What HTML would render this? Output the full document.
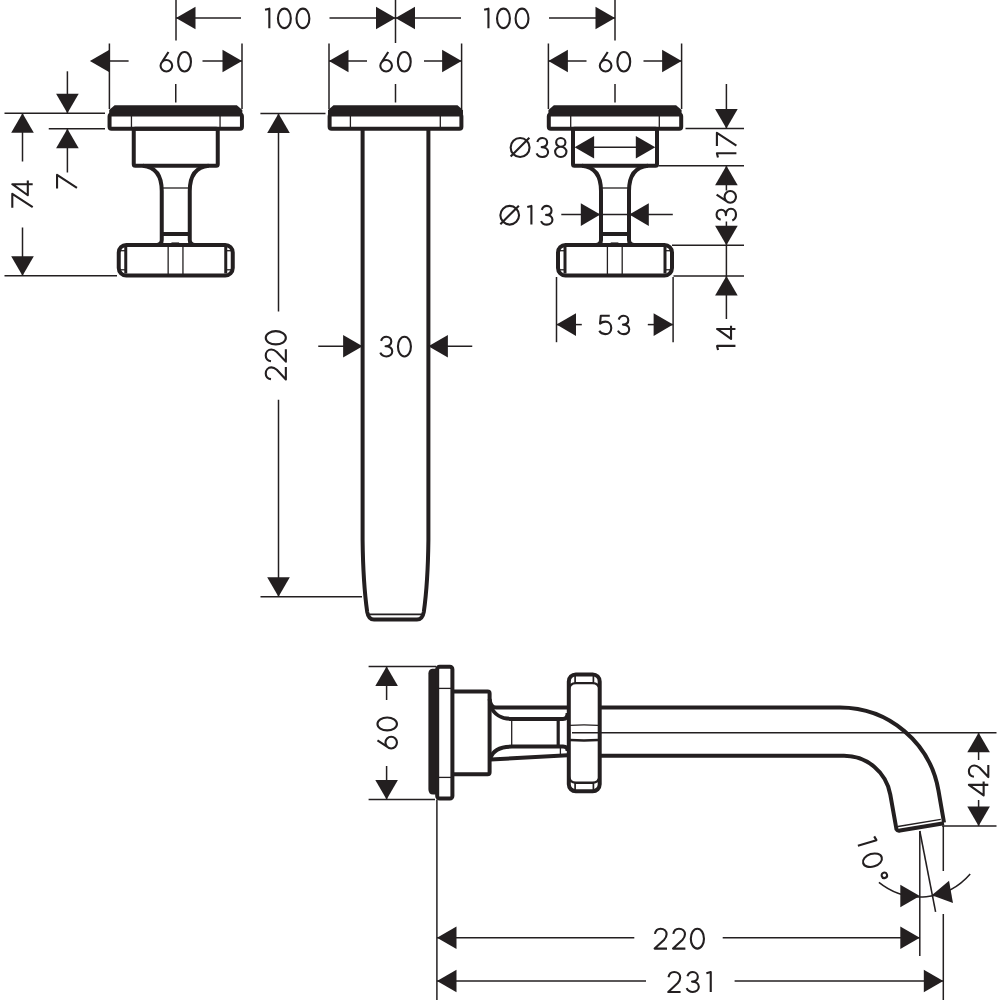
<!DOCTYPE html>
<html><head><meta charset="utf-8"><style>
html,body{margin:0;padding:0;background:#fff;}
svg{display:block;}
text{font-family:"Liberation Sans",sans-serif;fill:#231f20;stroke:none;}
</style></head><body>
<svg width="1000" height="1000" viewBox="0 0 1000 1000">
<rect width="1000" height="1000" fill="#fff"/>
<g stroke="#231f20" stroke-linecap="butt" stroke-linejoin="round" fill="none">
<line x1="176.00" y1="0.00" x2="176.00" y2="40.50" stroke-width="1.5"/>
<line x1="395.50" y1="0.00" x2="395.50" y2="43.00" stroke-width="1.5"/>
<line x1="615.00" y1="0.00" x2="615.00" y2="40.50" stroke-width="1.5"/>
<polygon points="176.00,18.00 195.50,6.70 195.50,29.30" fill="#231f20" stroke="none"/>
<line x1="176.00" y1="18.00" x2="241.00" y2="18.00" stroke-width="1.5"/>
<g transform="translate(287.20,18.40) rotate(0)" stroke-width="2.1" stroke-linecap="butt" fill="none"><path transform="translate(-22.15,-9.75) scale(0.9750)" d="M0,1.1 L4.4,0 L4.4,20" vector-effect="non-scaling-stroke"/><path transform="translate(-9.26,-9.75) scale(0.9750)" d="M6.6,0 C10.4,0 13.2,4.5 13.2,10 C13.2,15.5 10.4,20 6.6,20 C2.8,20 0,15.5 0,10 C0,4.5 2.8,0 6.6,0 Z" vector-effect="non-scaling-stroke"/><path transform="translate(9.28,-9.75) scale(0.9750)" d="M6.6,0 C10.4,0 13.2,4.5 13.2,10 C13.2,15.5 10.4,20 6.6,20 C2.8,20 0,15.5 0,10 C0,4.5 2.8,0 6.6,0 Z" vector-effect="non-scaling-stroke"/></g>
<line x1="329.50" y1="18.00" x2="395.50" y2="18.00" stroke-width="1.5"/>
<polygon points="395.50,18.00 376.00,29.30 376.00,6.70" fill="#231f20" stroke="none"/>
<polygon points="395.50,18.00 415.00,6.70 415.00,29.30" fill="#231f20" stroke="none"/>
<line x1="395.50" y1="18.00" x2="461.00" y2="18.00" stroke-width="1.5"/>
<g transform="translate(506.30,18.40) rotate(0)" stroke-width="2.1" stroke-linecap="butt" fill="none"><path transform="translate(-22.15,-9.75) scale(0.9750)" d="M0,1.1 L4.4,0 L4.4,20" vector-effect="non-scaling-stroke"/><path transform="translate(-9.26,-9.75) scale(0.9750)" d="M6.6,0 C10.4,0 13.2,4.5 13.2,10 C13.2,15.5 10.4,20 6.6,20 C2.8,20 0,15.5 0,10 C0,4.5 2.8,0 6.6,0 Z" vector-effect="non-scaling-stroke"/><path transform="translate(9.28,-9.75) scale(0.9750)" d="M6.6,0 C10.4,0 13.2,4.5 13.2,10 C13.2,15.5 10.4,20 6.6,20 C2.8,20 0,15.5 0,10 C0,4.5 2.8,0 6.6,0 Z" vector-effect="non-scaling-stroke"/></g>
<line x1="549.00" y1="18.00" x2="615.00" y2="18.00" stroke-width="1.5"/>
<polygon points="615.00,18.00 595.50,29.30 595.50,6.70" fill="#231f20" stroke="none"/>
<line x1="109.40" y1="43.50" x2="109.40" y2="109.00" stroke-width="1.5"/>
<line x1="242.00" y1="43.50" x2="242.00" y2="109.00" stroke-width="1.5"/>
<polygon points="89.90,61.00 109.40,49.70 109.40,72.30" fill="#231f20" stroke="none"/>
<polygon points="242.00,61.00 222.50,72.30 222.50,49.70" fill="#231f20" stroke="none"/>
<line x1="109.40" y1="61.00" x2="128.60" y2="61.00" stroke-width="1.5"/>
<line x1="202.50" y1="61.00" x2="242.00" y2="61.00" stroke-width="1.5"/>
<g transform="translate(175.75,61.75) rotate(0)" stroke-width="2.1" stroke-linecap="butt" fill="none"><path transform="translate(-15.20,-9.70) scale(0.9700)" d="M8.2,0 L1.6,10.2 M6,8.2 C9.3,8.2 12,10.9 12,14.1 C12,17.4 9.3,20 6,20 C2.7,20 0,17.4 0,14.1 C0,10.9 2.7,8.2 6,8.2 Z" vector-effect="non-scaling-stroke"/><path transform="translate(2.40,-9.70) scale(0.9700)" d="M6.6,0 C10.4,0 13.2,4.5 13.2,10 C13.2,15.5 10.4,20 6.6,20 C2.8,20 0,15.5 0,10 C0,4.5 2.8,0 6.6,0 Z" vector-effect="non-scaling-stroke"/></g>
<line x1="175.75" y1="84.00" x2="175.75" y2="102.50" stroke-width="1.5"/>
<line x1="329.00" y1="43.50" x2="329.00" y2="109.00" stroke-width="1.5"/>
<line x1="461.60" y1="43.50" x2="461.60" y2="109.00" stroke-width="1.5"/>
<polygon points="329.00,61.00 348.50,49.70 348.50,72.30" fill="#231f20" stroke="none"/>
<polygon points="461.60,61.00 442.10,72.30 442.10,49.70" fill="#231f20" stroke="none"/>
<line x1="329.00" y1="61.00" x2="367.00" y2="61.00" stroke-width="1.5"/>
<line x1="424.00" y1="61.00" x2="461.60" y2="61.00" stroke-width="1.5"/>
<g transform="translate(395.50,61.75) rotate(0)" stroke-width="2.1" stroke-linecap="butt" fill="none"><path transform="translate(-15.20,-9.70) scale(0.9700)" d="M8.2,0 L1.6,10.2 M6,8.2 C9.3,8.2 12,10.9 12,14.1 C12,17.4 9.3,20 6,20 C2.7,20 0,17.4 0,14.1 C0,10.9 2.7,8.2 6,8.2 Z" vector-effect="non-scaling-stroke"/><path transform="translate(2.40,-9.70) scale(0.9700)" d="M6.6,0 C10.4,0 13.2,4.5 13.2,10 C13.2,15.5 10.4,20 6.6,20 C2.8,20 0,15.5 0,10 C0,4.5 2.8,0 6.6,0 Z" vector-effect="non-scaling-stroke"/></g>
<line x1="395.50" y1="84.00" x2="395.50" y2="102.50" stroke-width="1.5"/>
<line x1="548.40" y1="43.50" x2="548.40" y2="109.00" stroke-width="1.5"/>
<line x1="681.60" y1="43.50" x2="681.60" y2="109.00" stroke-width="1.5"/>
<polygon points="548.40,61.00 567.90,49.70 567.90,72.30" fill="#231f20" stroke="none"/>
<polygon points="681.60,61.00 662.10,72.30 662.10,49.70" fill="#231f20" stroke="none"/>
<line x1="548.40" y1="61.00" x2="586.50" y2="61.00" stroke-width="1.5"/>
<line x1="643.50" y1="61.00" x2="681.60" y2="61.00" stroke-width="1.5"/>
<g transform="translate(615.00,61.75) rotate(0)" stroke-width="2.1" stroke-linecap="butt" fill="none"><path transform="translate(-15.20,-9.70) scale(0.9700)" d="M8.2,0 L1.6,10.2 M6,8.2 C9.3,8.2 12,10.9 12,14.1 C12,17.4 9.3,20 6,20 C2.7,20 0,17.4 0,14.1 C0,10.9 2.7,8.2 6,8.2 Z" vector-effect="non-scaling-stroke"/><path transform="translate(2.40,-9.70) scale(0.9700)" d="M6.6,0 C10.4,0 13.2,4.5 13.2,10 C13.2,15.5 10.4,20 6.6,20 C2.8,20 0,15.5 0,10 C0,4.5 2.8,0 6.6,0 Z" vector-effect="non-scaling-stroke"/></g>
<line x1="615.00" y1="84.00" x2="615.00" y2="102.50" stroke-width="1.5"/>
<path d="M109.15,114.5 L109.15,110 L114.65,105.2 L236.85,105.2 L242.35,110 L242.35,114.5 Z" fill="#231f20" stroke="none"/>
<rect x="109.55" y="114.6" width="132.4" height="14.1" rx="2" stroke-width="4.0" fill="none"/>
<line x1="131.45" y1="114.50" x2="131.45" y2="128.70" stroke-width="1.3"/>
<line x1="220.05" y1="114.50" x2="220.05" y2="128.70" stroke-width="1.3"/>
<rect x="133.75" y="128.7" width="84" height="37" rx="1.5" stroke-width="4.0" fill="none"/>
<path d="M142.75,165.7 C154.75,166.8 161.75,175 161.75,191 L161.75,240 Q161.75,244.5 156.75,245" stroke-width="4.0" fill="none"/>
<path d="M208.75,165.7 C196.75,166.8 189.75,175 189.75,191 L189.75,240 Q189.75,244.5 194.75,245" stroke-width="4.0" fill="none"/>
<line x1="161.75" y1="188.00" x2="189.75" y2="188.00" stroke-width="1.3"/>
<line x1="161.75" y1="234.00" x2="189.75" y2="234.00" stroke-width="4.0"/>
<rect x="118.75" y="245" width="114" height="30.6" rx="7.5" stroke-width="4.0" fill="none"/>
<line x1="125.75" y1="247.00" x2="125.75" y2="273.50" stroke-width="3.0"/>
<line x1="225.75" y1="247.00" x2="225.75" y2="273.50" stroke-width="3.0"/>
<line x1="118.75" y1="250.70" x2="125.75" y2="250.70" stroke-width="1.3"/>
<line x1="118.75" y1="269.80" x2="125.75" y2="269.80" stroke-width="1.3"/>
<line x1="232.75" y1="250.70" x2="225.75" y2="250.70" stroke-width="1.3"/>
<line x1="232.75" y1="269.80" x2="225.75" y2="269.80" stroke-width="1.3"/>
<line x1="168.15" y1="245.00" x2="168.15" y2="275.60" stroke-width="1.3"/>
<line x1="182.95" y1="245.00" x2="182.95" y2="275.60" stroke-width="1.3"/>
<line x1="171.45" y1="244.60" x2="179.15" y2="244.60" stroke-width="4.4"/>
<path d="M548.40,114.5 L548.40,110 L553.90,105.2 L676.10,105.2 L681.60,110 L681.60,114.5 Z" fill="#231f20" stroke="none"/>
<rect x="548.80" y="114.6" width="132.4" height="14.1" rx="2" stroke-width="4.0" fill="none"/>
<line x1="570.70" y1="114.50" x2="570.70" y2="128.70" stroke-width="1.3"/>
<line x1="659.30" y1="114.50" x2="659.30" y2="128.70" stroke-width="1.3"/>
<rect x="573.00" y="128.7" width="84" height="37" rx="1.5" stroke-width="4.0" fill="none"/>
<path d="M582.00,165.7 C594.00,166.8 601.00,175 601.00,191 L601.00,240 Q601.00,244.5 596.00,245" stroke-width="4.0" fill="none"/>
<path d="M648.00,165.7 C636.00,166.8 629.00,175 629.00,191 L629.00,240 Q629.00,244.5 634.00,245" stroke-width="4.0" fill="none"/>
<line x1="601.00" y1="188.00" x2="629.00" y2="188.00" stroke-width="1.3"/>
<line x1="601.00" y1="234.00" x2="629.00" y2="234.00" stroke-width="4.0"/>
<rect x="558.00" y="245" width="114" height="30.6" rx="7.5" stroke-width="4.0" fill="none"/>
<line x1="565.00" y1="247.00" x2="565.00" y2="273.50" stroke-width="3.0"/>
<line x1="665.00" y1="247.00" x2="665.00" y2="273.50" stroke-width="3.0"/>
<line x1="558.00" y1="250.70" x2="565.00" y2="250.70" stroke-width="1.3"/>
<line x1="558.00" y1="269.80" x2="565.00" y2="269.80" stroke-width="1.3"/>
<line x1="672.00" y1="250.70" x2="665.00" y2="250.70" stroke-width="1.3"/>
<line x1="672.00" y1="269.80" x2="665.00" y2="269.80" stroke-width="1.3"/>
<line x1="607.40" y1="245.00" x2="607.40" y2="275.60" stroke-width="1.3"/>
<line x1="622.20" y1="245.00" x2="622.20" y2="275.60" stroke-width="1.3"/>
<line x1="610.70" y1="244.60" x2="618.40" y2="244.60" stroke-width="4.4"/>
<line x1="4.50" y1="113.30" x2="105.00" y2="113.30" stroke-width="1.5"/>
<line x1="4.50" y1="275.80" x2="117.00" y2="275.80" stroke-width="1.5"/>
<line x1="22.50" y1="113.30" x2="22.50" y2="161.50" stroke-width="1.5"/>
<polygon points="22.50,113.30 33.80,132.80 11.20,132.80" fill="#231f20" stroke="none"/>
<g transform="translate(22.50,194.10) rotate(-90)" stroke-width="2.1" stroke-linecap="butt" fill="none"><path transform="translate(-13.55,-10.20) scale(1.0200)" d="M0,0 L13.6,0 L0.6,20" vector-effect="non-scaling-stroke"/><path transform="translate(-1.14,-10.20) scale(1.0200)" d="M10.8,20 L10.8,0 L0,15.2 L14.4,15.2" vector-effect="non-scaling-stroke"/></g>
<line x1="22.50" y1="227.50" x2="22.50" y2="275.80" stroke-width="1.5"/>
<polygon points="22.50,275.80 11.20,256.30 33.80,256.30" fill="#231f20" stroke="none"/>
<line x1="48.75" y1="128.70" x2="105.00" y2="128.70" stroke-width="1.5"/>
<line x1="67.40" y1="71.30" x2="67.40" y2="113.30" stroke-width="1.5"/>
<polygon points="67.40,113.30 56.10,93.80 78.70,93.80" fill="#231f20" stroke="none"/>
<line x1="67.40" y1="128.70" x2="67.40" y2="172.50" stroke-width="1.5"/>
<polygon points="67.40,128.70 78.70,148.20 56.10,148.20" fill="#231f20" stroke="none"/>
<g transform="translate(67.00,181.00) rotate(-90)" stroke-width="2.1" stroke-linecap="butt" fill="none"><path transform="translate(-7.45,-9.95) scale(0.9950)" d="M0,0 L13.6,0 L0.6,20" vector-effect="non-scaling-stroke"/></g>
<path d="M328,114.5 L328,110 L333.5,105.2 L457.5,105.2 L463,110 L463,114.5 Z" fill="#231f20" stroke="none"/>
<rect x="329.6" y="114.6" width="131.8" height="14.1" rx="2" stroke-width="4.0" fill="none"/>
<line x1="350.40" y1="114.50" x2="350.40" y2="128.70" stroke-width="1.3"/>
<line x1="440.30" y1="114.50" x2="440.30" y2="128.70" stroke-width="1.3"/>
<path d="M362.6,130 L362.6,540 C363,575 365.5,600 367.2,612 Q368.5,619.6 374,619.6 L417,619.6 Q422.5,619.6 423.8,612 C425.5,600 428,575 428.4,540 L428.4,130" stroke-width="4.0" fill="none"/>
<line x1="367.50" y1="614.40" x2="423.50" y2="614.40" stroke-width="1.6900000000000002"/>
<line x1="318.25" y1="346.20" x2="362.60" y2="346.20" stroke-width="1.5"/>
<polygon points="362.60,346.20 343.10,357.50 343.10,334.90" fill="#231f20" stroke="none"/>
<polygon points="428.40,346.20 447.90,334.90 447.90,357.50" fill="#231f20" stroke="none"/>
<line x1="428.40" y1="346.20" x2="472.25" y2="346.20" stroke-width="1.5"/>
<g transform="translate(395.60,346.60) rotate(0)" stroke-width="2.1" stroke-linecap="butt" fill="none"><path transform="translate(-15.32,-9.82) scale(0.9825)" d="M0.8,4.2 C1.6,1.6 3.6,0 6.2,0 C9,0 11.2,2 11.2,4.8 C11.2,7.6 9,9.6 5.4,9.6 C9.6,9.6 12.2,11.8 12.2,14.8 C12.2,17.9 9.6,20 6.2,20 C3.4,20 1,18.5 0,16.2" vector-effect="non-scaling-stroke"/><path transform="translate(2.36,-9.82) scale(0.9825)" d="M6.6,0 C10.4,0 13.2,4.5 13.2,10 C13.2,15.5 10.4,20 6.6,20 C2.8,20 0,15.5 0,10 C0,4.5 2.8,0 6.6,0 Z" vector-effect="non-scaling-stroke"/></g>
<line x1="260.40" y1="113.50" x2="325.50" y2="113.50" stroke-width="1.5"/>
<line x1="278.50" y1="113.50" x2="278.50" y2="311.50" stroke-width="1.5"/>
<polygon points="278.50,113.50 289.80,133.00 267.20,133.00" fill="#231f20" stroke="none"/>
<g transform="translate(275.80,355.60) rotate(-90)" stroke-width="2.1" stroke-linecap="butt" fill="none"><path transform="translate(-24.45,-10.05) scale(1.0050)" d="M0.9,5.2 C1.4,2 3.8,0 6.6,0 C10,0 12.6,2.4 12.6,5.6 C12.6,7.8 11.6,9.4 10.2,11 L0.6,20 L13,20" vector-effect="non-scaling-stroke"/><path transform="translate(-6.63,-10.05) scale(1.0050)" d="M0.9,5.2 C1.4,2 3.8,0 6.6,0 C10,0 12.6,2.4 12.6,5.6 C12.6,7.8 11.6,9.4 10.2,11 L0.6,20 L13,20" vector-effect="non-scaling-stroke"/><path transform="translate(11.18,-10.05) scale(1.0050)" d="M6.6,0 C10.4,0 13.2,4.5 13.2,10 C13.2,15.5 10.4,20 6.6,20 C2.8,20 0,15.5 0,10 C0,4.5 2.8,0 6.6,0 Z" vector-effect="non-scaling-stroke"/></g>
<line x1="278.50" y1="399.75" x2="278.50" y2="596.80" stroke-width="1.5"/>
<polygon points="278.50,596.80 267.20,577.30 289.80,577.30" fill="#231f20" stroke="none"/>
<line x1="260.50" y1="596.80" x2="362.00" y2="596.80" stroke-width="1.5"/>
<polygon points="574.60,147.30 594.10,136.00 594.10,158.60" fill="#231f20" stroke="none"/>
<polygon points="655.30,147.30 635.80,158.60 635.80,136.00" fill="#231f20" stroke="none"/>
<line x1="592.00" y1="147.30" x2="638.00" y2="147.30" stroke-width="1.5"/>
<g transform="translate(538.55,147.50) rotate(0)" stroke-width="2.1" stroke-linecap="butt" fill="none"><path transform="translate(-27.90,-9.45) scale(0.9450)" d="M10,0 C15.5,0 20,4.5 20,10 C20,15.5 15.5,20 10,20 C4.5,20 0,15.5 0,10 C0,4.5 4.5,0 10,0 Z M0,19.6 L19.8,-0.2" vector-effect="non-scaling-stroke"/><path transform="translate(-1.98,-9.45) scale(0.9450)" d="M0.8,4.2 C1.6,1.6 3.6,0 6.2,0 C9,0 11.2,2 11.2,4.8 C11.2,7.6 9,9.6 5.4,9.6 C9.6,9.6 12.2,11.8 12.2,14.8 C12.2,17.9 9.6,20 6.2,20 C3.4,20 1,18.5 0,16.2" vector-effect="non-scaling-stroke"/><path transform="translate(16.56,-9.45) scale(0.9450)" d="M6,9.2 C3.4,9.2 1.1,7.2 1.1,4.6 C1.1,2 3.4,0 6,0 C8.6,0 10.9,2 10.9,4.6 C10.9,7.2 8.6,9.2 6,9.2 C2.7,9.2 0,11.6 0,14.6 C0,17.6 2.7,20 6,20 C9.3,20 12,17.6 12,14.6 C12,11.6 9.3,9.2 6,9.2 Z" vector-effect="non-scaling-stroke"/></g>
<line x1="561.30" y1="214.60" x2="672.80" y2="214.60" stroke-width="1.5"/>
<polygon points="600.30,214.60 580.80,225.90 580.80,203.30" fill="#231f20" stroke="none"/>
<polygon points="629.30,214.60 648.80,203.30 648.80,225.90" fill="#231f20" stroke="none"/>
<g transform="translate(526.40,215.25) rotate(0)" stroke-width="2.1" stroke-linecap="butt" fill="none"><path transform="translate(-26.05,-9.35) scale(0.9350)" d="M10,0 C15.5,0 20,4.5 20,10 C20,15.5 15.5,20 10,20 C4.5,20 0,15.5 0,10 C0,4.5 4.5,0 10,0 Z M0,19.6 L19.8,-0.2" vector-effect="non-scaling-stroke"/><path transform="translate(0.89,-9.35) scale(0.9350)" d="M0,1.1 L4.4,0 L4.4,20" vector-effect="non-scaling-stroke"/><path transform="translate(14.64,-9.35) scale(0.9350)" d="M0.8,4.2 C1.6,1.6 3.6,0 6.2,0 C9,0 11.2,2 11.2,4.8 C11.2,7.6 9,9.6 5.4,9.6 C9.6,9.6 12.2,11.8 12.2,14.8 C12.2,17.9 9.6,20 6.2,20 C3.4,20 1,18.5 0,16.2" vector-effect="non-scaling-stroke"/></g>
<line x1="685.50" y1="128.60" x2="744.00" y2="128.60" stroke-width="1.5"/>
<line x1="658.50" y1="165.70" x2="744.00" y2="165.70" stroke-width="1.5"/>
<line x1="672.00" y1="245.20" x2="744.00" y2="245.20" stroke-width="1.5"/>
<line x1="673.50" y1="275.90" x2="744.00" y2="275.90" stroke-width="1.5"/>
<line x1="726.40" y1="84.00" x2="726.40" y2="128.60" stroke-width="1.5"/>
<polygon points="726.40,128.60 715.10,109.10 737.70,109.10" fill="#231f20" stroke="none"/>
<g transform="translate(726.65,145.20) rotate(-90)" stroke-width="2.1" stroke-linecap="butt" fill="none"><path transform="translate(-12.35,-9.75) scale(0.9750)" d="M0,1.1 L4.4,0 L4.4,20" vector-effect="non-scaling-stroke"/><path transform="translate(-0.91,-9.75) scale(0.9750)" d="M0,0 L13.6,0 L0.6,20" vector-effect="non-scaling-stroke"/></g>
<polygon points="726.40,165.70 737.70,185.20 715.10,185.20" fill="#231f20" stroke="none"/>
<line x1="726.40" y1="165.70" x2="726.40" y2="190.50" stroke-width="1.5"/>
<line x1="726.40" y1="221.50" x2="726.40" y2="245.20" stroke-width="1.5"/>
<polygon points="726.40,245.20 715.10,225.70 737.70,225.70" fill="#231f20" stroke="none"/>
<g transform="translate(726.30,205.80) rotate(-90)" stroke-width="2.1" stroke-linecap="butt" fill="none"><path transform="translate(-14.75,-9.70) scale(0.9700)" d="M0.8,4.2 C1.6,1.6 3.6,0 6.2,0 C9,0 11.2,2 11.2,4.8 C11.2,7.6 9,9.6 5.4,9.6 C9.6,9.6 12.2,11.8 12.2,14.8 C12.2,17.9 9.6,20 6.2,20 C3.4,20 1,18.5 0,16.2" vector-effect="non-scaling-stroke"/><path transform="translate(3.11,-9.70) scale(0.9700)" d="M8.2,0 L1.6,10.2 M6,8.2 C9.3,8.2 12,10.9 12,14.1 C12,17.4 9.3,20 6,20 C2.7,20 0,17.4 0,14.1 C0,10.9 2.7,8.2 6,8.2 Z" vector-effect="non-scaling-stroke"/></g>
<line x1="726.40" y1="245.20" x2="726.40" y2="275.90" stroke-width="1.5"/>
<polygon points="726.40,275.90 737.70,295.40 715.10,295.40" fill="#231f20" stroke="none"/>
<line x1="726.40" y1="275.90" x2="726.40" y2="319.00" stroke-width="1.5"/>
<g transform="translate(726.25,337.80) rotate(-90)" stroke-width="2.1" stroke-linecap="butt" fill="none"><path transform="translate(-12.15,-9.20) scale(0.9200)" d="M0,1.1 L4.4,0 L4.4,20" vector-effect="non-scaling-stroke"/><path transform="translate(-1.10,-9.20) scale(0.9200)" d="M10.8,20 L10.8,0 L0,15.2 L14.4,15.2" vector-effect="non-scaling-stroke"/></g>
<line x1="556.50" y1="277.00" x2="556.50" y2="342.20" stroke-width="1.5"/>
<line x1="673.10" y1="277.00" x2="673.10" y2="342.20" stroke-width="1.5"/>
<polygon points="556.50,324.60 576.00,313.30 576.00,335.90" fill="#231f20" stroke="none"/>
<line x1="556.50" y1="324.60" x2="581.80" y2="324.60" stroke-width="1.5"/>
<polygon points="673.10,324.60 653.60,335.90 653.60,313.30" fill="#231f20" stroke="none"/>
<line x1="647.80" y1="324.60" x2="673.10" y2="324.60" stroke-width="1.5"/>
<g transform="translate(614.25,324.95) rotate(0)" stroke-width="2.1" stroke-linecap="butt" fill="none"><path transform="translate(-14.95,-9.20) scale(0.9200)" d="M11.4,0 L1.6,0 L0.8,8.6 C2.4,7.2 4.4,6.4 6.6,6.4 C10.4,6.4 13,9.4 13,13.2 C13,17.2 10.2,20 6.4,20 C3.6,20 1.2,18.5 0,16.4" vector-effect="non-scaling-stroke"/><path transform="translate(3.73,-9.20) scale(0.9200)" d="M0.8,4.2 C1.6,1.6 3.6,0 6.2,0 C9,0 11.2,2 11.2,4.8 C11.2,7.6 9,9.6 5.4,9.6 C9.6,9.6 12.2,11.8 12.2,14.8 C12.2,17.9 9.6,20 6.2,20 C3.4,20 1,18.5 0,16.2" vector-effect="non-scaling-stroke"/></g>
<line x1="368.60" y1="666.50" x2="436.00" y2="666.50" stroke-width="1.5"/>
<line x1="368.60" y1="799.60" x2="435.00" y2="799.60" stroke-width="1.5"/>
<line x1="386.60" y1="666.50" x2="386.60" y2="700.00" stroke-width="1.5"/>
<polygon points="386.60,666.50 397.90,686.00 375.30,686.00" fill="#231f20" stroke="none"/>
<g transform="translate(387.20,733.00) rotate(-90)" stroke-width="2.1" stroke-linecap="butt" fill="none"><path transform="translate(-15.45,-9.75) scale(0.9750)" d="M8.2,0 L1.6,10.2 M6,8.2 C9.3,8.2 12,10.9 12,14.1 C12,17.4 9.3,20 6,20 C2.7,20 0,17.4 0,14.1 C0,10.9 2.7,8.2 6,8.2 Z" vector-effect="non-scaling-stroke"/><path transform="translate(2.58,-9.75) scale(0.9750)" d="M6.6,0 C10.4,0 13.2,4.5 13.2,10 C13.2,15.5 10.4,20 6.6,20 C2.8,20 0,15.5 0,10 C0,4.5 2.8,0 6.6,0 Z" vector-effect="non-scaling-stroke"/></g>
<line x1="386.60" y1="766.00" x2="386.60" y2="799.60" stroke-width="1.5"/>
<polygon points="386.60,799.60 375.30,780.10 397.90,780.10" fill="#231f20" stroke="none"/>
<line x1="436.90" y1="799.60" x2="436.90" y2="1000.00" stroke-width="1.5"/>
<path d="M438.8,668.8 L432.2,668.8 Q428.4,669.5 428.4,673.5 L428.4,789 Q428.4,794.6 433,794.6 L438.8,794.6 Z" fill="#231f20" stroke="none"/>
<rect x="437.2" y="666.8" width="15.2" height="131.8" rx="2.5" stroke-width="4.0" fill="none"/>
<line x1="438.50" y1="688.40" x2="451.00" y2="688.40" stroke-width="1.3"/>
<line x1="438.50" y1="777.40" x2="451.00" y2="777.40" stroke-width="1.3"/>
<path d="M452.6,691.4 L487.6,691.4 Q489.6,691.4 489.6,693.4 L489.6,772.2 Q489.6,774.2 487.6,774.2 L452.6,774.2" stroke-width="4.0" fill="none"/>
<path d="M489.6,699 Q490.5,707.6 496,707.6 L567.6,707.6" stroke-width="4.0" fill="none"/>
<path d="M491,707 C495,715.5 501,718.9 512,718.9 L563,718.9 Q567.6,718.9 567.6,713" stroke-width="4.0" fill="none"/>
<path d="M490.5,758 C493,750 500,746.6 512,746.6 L563,746.6 Q567.6,746.6 567.6,751" stroke-width="4.0" fill="none"/>
<path d="M490.5,759.6 L567.6,755.2" stroke-width="4.0" fill="none"/>
<line x1="511.70" y1="718.90" x2="511.70" y2="746.60" stroke-width="1.3"/>
<line x1="558.20" y1="718.90" x2="558.20" y2="746.60" stroke-width="3.2"/>
<path d="M560.4,747.5 L560.4,755.5" stroke-width="1.3" fill="none"/>
<rect x="568.8" y="674.4" width="30.9" height="116.9" rx="7" stroke-width="4.0" fill="none"/>
<path d="M568.8,690 Q569.5,683.1 576,683.1 L592.5,683.1 Q599,683.1 599.7,690" stroke-width="2.4" fill="none"/>
<path d="M568.8,776 Q569.5,782.7 576,782.7 L592.5,782.7 Q599,782.7 599.7,776" stroke-width="2.4" fill="none"/>
<line x1="575.10" y1="674.40" x2="575.10" y2="683.10" stroke-width="1.6900000000000002"/>
<line x1="593.40" y1="674.40" x2="593.40" y2="683.10" stroke-width="1.6900000000000002"/>
<line x1="575.10" y1="782.70" x2="575.10" y2="791.30" stroke-width="1.6900000000000002"/>
<line x1="593.40" y1="782.70" x2="593.40" y2="791.30" stroke-width="1.6900000000000002"/>
<path d="M570,725.4 Q584,724.5 598,725.4" stroke-width="1.3" fill="none"/>
<path d="M570,740 Q584,740.9 598,740" stroke-width="2.4" fill="none"/>
<rect x="567.6" y="728.4" width="2.6" height="8.4" rx="1.3" fill="#231f20" stroke="none"/>
<path d="M599.7,707.6 L840,707.6 A100,100 0 0 1 938.48,790.64 L944,822.5" stroke-width="4.0" fill="none"/>
<path d="M599.7,755.7 L844,755.7 A47,47 0 0 1 890.29,794.54 L896.6,830" stroke-width="4.0" fill="none"/>
<path d="M896.5,829.5 Q897.5,831 900,830.5 L944,823.3" stroke-width="4.0" fill="none"/>
<line x1="898.00" y1="826.50" x2="940.80" y2="819.40" stroke-width="1.3"/>
<line x1="572.00" y1="732.70" x2="996.50" y2="732.70" stroke-width="1.5"/>
<line x1="942.00" y1="826.00" x2="996.50" y2="826.00" stroke-width="1.5"/>
<polygon points="978.60,732.70 989.90,752.20 967.30,752.20" fill="#231f20" stroke="none"/>
<line x1="978.60" y1="732.70" x2="978.60" y2="760.00" stroke-width="1.5"/>
<g transform="translate(978.60,780.20) rotate(-90)" stroke-width="2.1" stroke-linecap="butt" fill="none"><path transform="translate(-15.15,-9.70) scale(0.9700)" d="M10.8,20 L10.8,0 L0,15.2 L14.4,15.2" vector-effect="non-scaling-stroke"/><path transform="translate(2.54,-9.70) scale(0.9700)" d="M0.9,5.2 C1.4,2 3.8,0 6.6,0 C10,0 12.6,2.4 12.6,5.6 C12.6,7.8 11.6,9.4 10.2,11 L0.6,20 L13,20" vector-effect="non-scaling-stroke"/></g>
<polygon points="978.60,826.00 967.30,806.50 989.90,806.50" fill="#231f20" stroke="none"/>
<line x1="978.60" y1="800.00" x2="978.60" y2="826.00" stroke-width="1.5"/>
<line x1="919.80" y1="831.00" x2="919.80" y2="956.00" stroke-width="1.5"/>
<line x1="943.30" y1="826.00" x2="943.30" y2="871.00" stroke-width="1.5"/>
<line x1="943.30" y1="914.00" x2="943.30" y2="1000.00" stroke-width="1.5"/>
<line x1="919.80" y1="831.00" x2="935.60" y2="911.80" stroke-width="1.56"/>
<path d="M878.9,882.4 A66,66 0 0 0 970.2,874" stroke-width="1.5" fill="none"/>
<polygon points="919.80,896.00 900.30,907.30 900.30,884.70" fill="#231f20" stroke="none"/>
<polygon points="931.80,895.20 949.04,880.69 952.97,902.94" fill="#231f20" stroke="none"/>
<g transform="translate(872.20,859.40) rotate(73)" stroke-width="2.1" stroke-linecap="butt" fill="none"><path transform="translate(-21.45,-9.70) scale(0.9700)" d="M0,1.1 L4.4,0 L4.4,20" vector-effect="non-scaling-stroke"/><path transform="translate(-5.53,-9.70) scale(0.9700)" d="M6.6,0 C10.4,0 13.2,4.5 13.2,10 C13.2,15.5 10.4,20 6.6,20 C2.8,20 0,15.5 0,10 C0,4.5 2.8,0 6.6,0 Z" vector-effect="non-scaling-stroke"/><path transform="translate(16.02,-9.70) scale(0.9700)" d="M2.8,0 C4.35,0 5.6,1.25 5.6,2.8 C5.6,4.35 4.35,5.6 2.8,5.6 C1.25,5.6 0,4.35 0,2.8 C0,1.25 1.25,0 2.8,0 Z" vector-effect="non-scaling-stroke"/></g>
<polygon points="437.00,937.80 456.50,926.50 456.50,949.10" fill="#231f20" stroke="none"/>
<line x1="437.00" y1="937.80" x2="634.30" y2="937.80" stroke-width="1.5"/>
<line x1="722.70" y1="937.80" x2="919.80" y2="937.80" stroke-width="1.5"/>
<polygon points="919.80,937.80 900.30,949.10 900.30,926.50" fill="#231f20" stroke="none"/>
<g transform="translate(679.00,938.65) rotate(0)" stroke-width="2.1" stroke-linecap="butt" fill="none"><path transform="translate(-24.95,-9.95) scale(0.9950)" d="M0.9,5.2 C1.4,2 3.8,0 6.6,0 C10,0 12.6,2.4 12.6,5.6 C12.6,7.8 11.6,9.4 10.2,11 L0.6,20 L13,20" vector-effect="non-scaling-stroke"/><path transform="translate(-6.57,-9.95) scale(0.9950)" d="M0.9,5.2 C1.4,2 3.8,0 6.6,0 C10,0 12.6,2.4 12.6,5.6 C12.6,7.8 11.6,9.4 10.2,11 L0.6,20 L13,20" vector-effect="non-scaling-stroke"/><path transform="translate(11.82,-9.95) scale(0.9950)" d="M6.6,0 C10.4,0 13.2,4.5 13.2,10 C13.2,15.5 10.4,20 6.6,20 C2.8,20 0,15.5 0,10 C0,4.5 2.8,0 6.6,0 Z" vector-effect="non-scaling-stroke"/></g>
<polygon points="437.00,981.00 456.50,969.70 456.50,992.30" fill="#231f20" stroke="none"/>
<line x1="437.00" y1="981.00" x2="646.00" y2="981.00" stroke-width="1.5"/>
<line x1="734.60" y1="981.00" x2="943.30" y2="981.00" stroke-width="1.5"/>
<polygon points="943.30,981.00 923.80,992.30 923.80,969.70" fill="#231f20" stroke="none"/>
<g transform="translate(689.20,982.00) rotate(0)" stroke-width="2.1" stroke-linecap="butt" fill="none"><path transform="translate(-21.55,-9.95) scale(0.9950)" d="M0.9,5.2 C1.4,2 3.8,0 6.6,0 C10,0 12.6,2.4 12.6,5.6 C12.6,7.8 11.6,9.4 10.2,11 L0.6,20 L13,20" vector-effect="non-scaling-stroke"/><path transform="translate(-2.54,-9.95) scale(0.9950)" d="M0.8,4.2 C1.6,1.6 3.6,0 6.2,0 C9,0 11.2,2 11.2,4.8 C11.2,7.6 9,9.6 5.4,9.6 C9.6,9.6 12.2,11.8 12.2,14.8 C12.2,17.9 9.6,20 6.2,20 C3.4,20 1,18.5 0,16.2" vector-effect="non-scaling-stroke"/><path transform="translate(17.17,-9.95) scale(0.9950)" d="M0,1.1 L4.4,0 L4.4,20" vector-effect="non-scaling-stroke"/></g>
</g>
</svg>
</body></html>
